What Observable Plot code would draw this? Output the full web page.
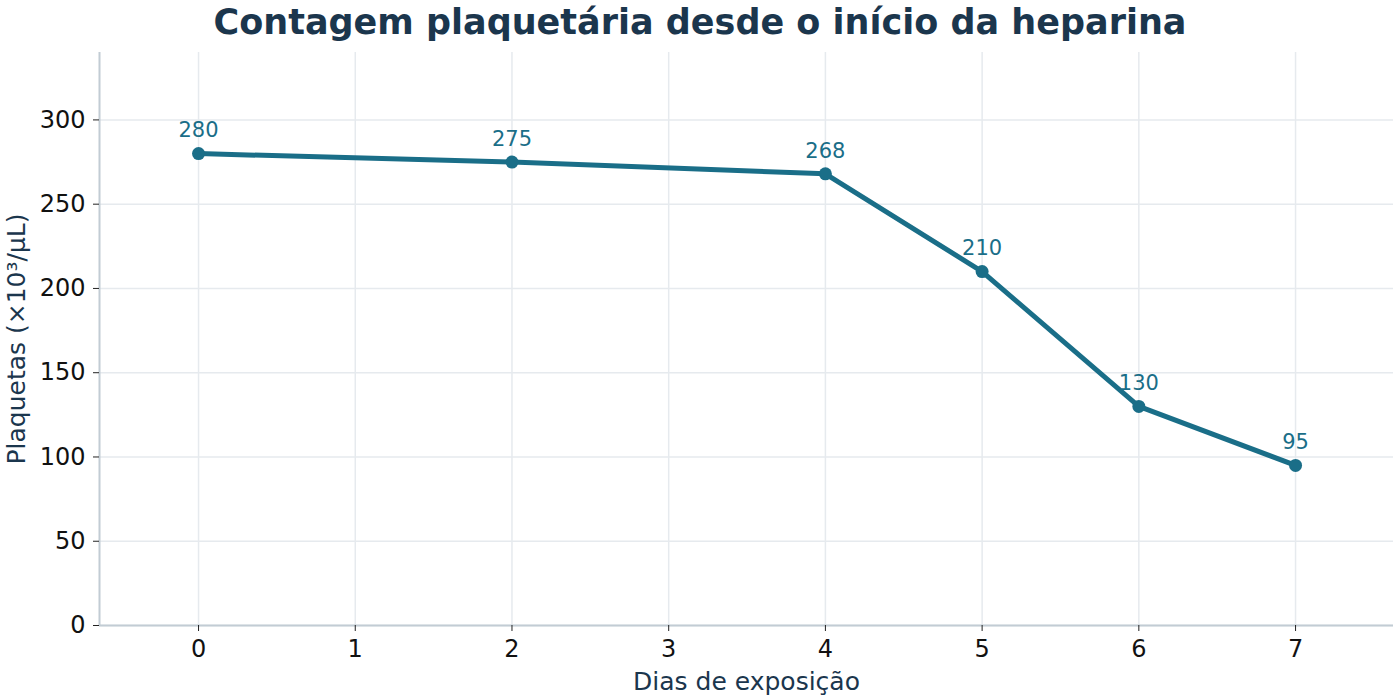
<!DOCTYPE html>
<html><head><meta charset="utf-8">
<script src="https://cdn.jsdelivr.net/npm/d3@7"></script>
<script src="https://cdn.jsdelivr.net/npm/@observablehq/plot@0.6"></script>
<style>
body{margin:0;background:#fff;font-family:"DejaVu Sans",sans-serif;}
#title{height:45px;line-height:45px;text-align:center;font-weight:bold;font-size:35px;color:#1b364d;}
</style></head><body>
<div id="title">Contagem plaquetária desde o início da heparina</div>
<div id="chart"></div>
<script>
const days = [0, 2, 4, 5, 6, 7];
const platelets = [280, 275, 268, 210, 130, 95];
const xTicks = [0, 1, 2, 3, 4, 5, 6, 7];
const yTicks = [0, 50, 100, 150, 200, 250, 300];
const data = days.map((d, i) => ({day: d, value: platelets[i]}));
const lineColor = "#1a6e88";
const chart = Plot.plot({
  width: 1400, height: 655,
  marginTop: 7, marginBottom: 75, marginLeft: 99, marginRight: 7,
  style: {fontFamily: "DejaVu Sans", fontSize: "22px", background: "#fff", overflow: "visible"},
  x: {domain: [-0.632, 7.625]},
  y: {domain: [0, 340]},
  marks: [
    Plot.gridX(xTicks, {stroke: "#e6eaee", strokeOpacity: 1, strokeWidth: 1.5}),
    Plot.gridY(yTicks, {stroke: "#e6eaee", strokeOpacity: 1, strokeWidth: 1.5}),
    Plot.ruleX([-0.632], {stroke: "#c2ccd4", strokeWidth: 2}),
    Plot.ruleY([0], {stroke: "#c2ccd4", strokeWidth: 2}),
    Plot.axisX(xTicks, {tickSize: 6, tickPadding: 8, stroke: "#222", fill: "#111", fontSize: 24,
      tickFormat: d3.format("d"),
      label: "Dias de exposição", labelAnchor: "center", labelArrow: "none", labelOffset: 64}),
    Plot.axisY(yTicks, {tickSize: 6, tickPadding: 8, stroke: "#222", fill: "#111", fontSize: 24,
      tickFormat: d3.format("d"),
      label: "Plaquetas (×10³/µL)", labelAnchor: "center", labelArrow: "none", labelOffset: 92}),
    Plot.line(data, {x: "day", y: "value", stroke: lineColor, strokeWidth: 5}),
    Plot.dot(data, {x: "day", y: "value", fill: lineColor, r: 6.5}),
    Plot.text(data, {x: "day", y: "value", text: d => String(d.value), dy: -23, fill: lineColor, fontSize: 21})
  ]
});
document.getElementById("chart").appendChild(chart);
chart.querySelectorAll("g[aria-label='x-axis label'], g[aria-label='y-axis label']").forEach(g => {
  g.setAttribute("font-size", "25");
  g.querySelectorAll("text").forEach(t => { t.setAttribute("fill", "#1b364d"); t.style.fontSize = "25px"; });
});
</script>
</body></html>
